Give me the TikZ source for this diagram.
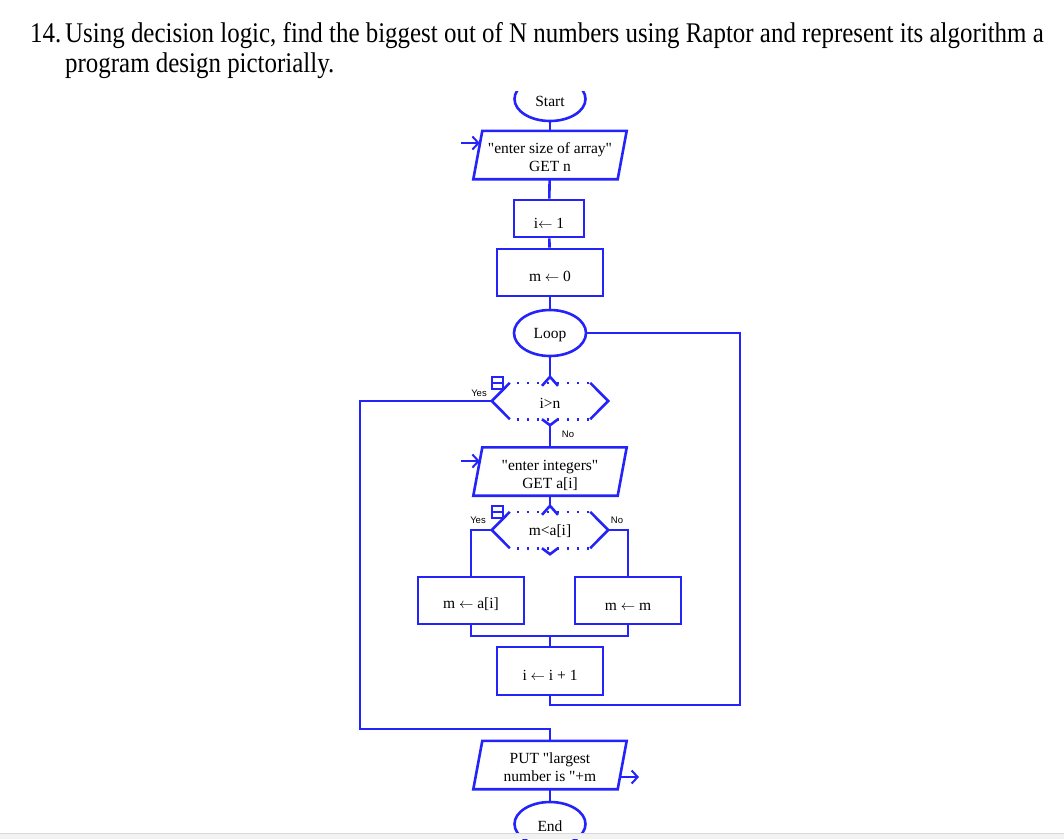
\documentclass[tikz,border=0pt]{standalone}
\usepackage{fontspec}
\newfontfamily\flowfont{Liberation Serif}
\newfontfamily\headfont[FakeStretch=0.875]{Liberation Serif}
\newfontfamily\labelfont{Liberation Sans}
\usetikzlibrary{arrows.meta, positioning, shapes.geometric}
\definecolor{raptorblue}{RGB}{35,35,250}
\newcommand{\iolines}[1]{\raisebox{-4pt}[\height][\depth]{\begin{tabular}{@{}c@{}}#1\end{tabular}}}

\begin{document}
\begin{tikzpicture}[x=1pt, y=-1pt,
    every node/.style={font=\flowfont\fontsize{15.5}{18}\selectfont, align=center},
    flow/.style={draw=raptorblue, line width=2.6pt},
    term/.style={ellipse, draw=raptorblue, line width=2.6pt, minimum width=71pt, minimum height=44pt, inner sep=0pt,
      execute at begin node={\rule{0pt}{15pt}}},
    procbox/.style={rectangle, draw=raptorblue, line width=2.6pt, minimum width=106pt, minimum height=47pt,
      execute at begin node={\rule{0pt}{19pt}}},
    iobox/.style={minimum width=144pt, minimum height=48pt, inner sep=0pt},
    decbox/.style={minimum width=116pt, minimum height=36pt, inner sep=0pt,
      execute at begin node={\rule{0pt}{14pt}}},
    brkbox/.style={draw=raptorblue, line width=1.8pt, minimum width=11pt, minimum height=12pt, inner sep=0pt,
      path picture={\draw[raptorblue, line width=1.8pt] (path picture bounding box.west) -- (path picture bounding box.east);}},
    yesno/.style={font=\labelfont\fontsize{9.5}{10}\selectfont, inner sep=0pt},
    heading/.style={font=\headfont\fontsize{28.5}{32}\selectfont, anchor=base west, inner sep=0pt},
    inarrow/.style={draw=raptorblue, line width=2pt, -{Straight Barb[length=6pt, width=13pt]}}]
  \clip (0,0) rectangle (1064,839);

  \node[heading] (qnum) at (30,42) {14.};
  \node[heading] (qline1) at (65,42) {Using decision logic, find the biggest out of N numbers using Raptor and represent its algorithm a};
  \node[heading] (qline2) at (65,72) {program design pictorially.};

  \begin{scope}
    \clip (0,91) rectangle (1064,839);
    \node[term] (start) at (550,99) {Start};
  \end{scope}
  \node[iobox] (getn) at (550,155) {\iolines{"enter size of array"\\GET n}};
  \node[procbox, minimum width=70pt, minimum height=37pt] (i1) at (549,218.5) {i$\leftarrow$ 1};
  \node[procbox] (m0) at (550,272.5) {m $\leftarrow$ 0};
  \node[term, minimum width=72pt, minimum height=46pt] (loop) at (550,333) {Loop};
  \node[decbox] (dec1) at (550,401) {i>n};
  \node[iobox] (getai) at (550,471.5) {\iolines{"enter integers"\\GET a[i]}};
  \node[decbox] (dec2) at (550,530) {m<a[i]};
  \node[procbox] (setm) at (471,600.5) {m $\leftarrow$ a[i]};
  \node[procbox] (keepm) at (628,600.5) {m $\leftarrow$ m};
  \node[procbox, minimum height=48pt] (incr) at (550,671) {i $\leftarrow$ i + 1};
  \node[iobox] (put) at (550,765) {\iolines{PUT "largest\\number is "+m}};
  \node[term] (endt) at (550,824) {End};

  \foreach \n in {getn, getai, put}
    \draw[flow] ([xshift=4.5pt]\n.north west) -- ([xshift=4.5pt]\n.north east)
      -- ([xshift=-4.5pt]\n.south east) -- ([xshift=-4.5pt]\n.south west) -- cycle;

  \foreach \d in {dec1, dec2} {
    \draw[flow] ([xshift=18pt]\d.north west) -- (\d.west) -- ([xshift=18pt]\d.south west);
    \draw[flow] ([xshift=-18pt]\d.north east) -- (\d.east) -- ([xshift=-18pt]\d.south east);
    \draw[flow, dash pattern=on 2.5pt off 7.5pt] ([xshift=25pt]\d.north west) -- ([xshift=-18pt]\d.north east);
    \draw[flow, dash pattern=on 2.5pt off 7.5pt] ([xshift=25pt]\d.south west) -- ([xshift=-18pt]\d.south east);
    \coordinate (\d-in) at ([yshift=6pt]\d.north);
    \coordinate (\d-out) at ([yshift=-6pt]\d.south);
    \draw[flow] ([xshift=-8pt, yshift=-3pt]\d.north) -- (\d-in) -- ([xshift=8pt, yshift=-3pt]\d.north);
    \draw[flow] ([xshift=-8pt]\d.south) -- (\d-out) -- ([xshift=8pt]\d.south);
    \node[brkbox] (\d-brk) at ([xshift=5.5pt]\d.north west) {};
  }

  \node[yesno] (yes1) at (479,393) {Yes};
  \node[yesno] (no1) at (568,434) {No};
  \node[yesno] (yes2) at (478,520) {Yes};
  \node[yesno] (no2) at (617,520) {No};

  \draw[flow] (start) -- (getn);
  \draw[flow] (getn) -- (i1);
  \draw[flow] (i1) -- (m0);
  \draw[flow] (m0) -- (loop);
  \draw[flow] (loop) -- (dec1-in);
  \draw[flow] (dec1-out) -- (getai);
  \draw[flow] (getai) -- (dec2-in);
  \draw[flow] (dec2.west) -| (setm.north);
  \draw[flow] (dec2.east) -| (keepm.north);
  \coordinate (join) at (550,636);
  \draw[flow] (setm.south) |- (join) -| (keepm.south);
  \draw[flow] (join) -- (incr);
  \coordinate (back) at (740,705);
  \draw[flow] (incr) |- (back) |- (loop.east);
  \coordinate (exitl) at (360,729);
  \draw[flow] (dec1.west) -| (exitl) -| (put.north);
  \draw[flow] (put) -- (endt);

  \coordinate (getn-src) at (461,143);
  \draw[inarrow] (getn-src) -- ([xshift=2pt]getn-src -| getn.west);
  \coordinate (getai-src) at (461,461);
  \draw[inarrow] (getai-src) -- ([xshift=2pt]getai-src -| getai.west);
  \coordinate (put-dst) at (639,777);
  \draw[inarrow] ([xshift=-2pt]put-dst -| put.east) -- (put-dst);

  \fill[gray!10] (0,833) rectangle (1064,839);
  \draw[gray!30, line width=1pt] (0,833.5) -- (1064,833.5);
\end{tikzpicture}
\end{document}
